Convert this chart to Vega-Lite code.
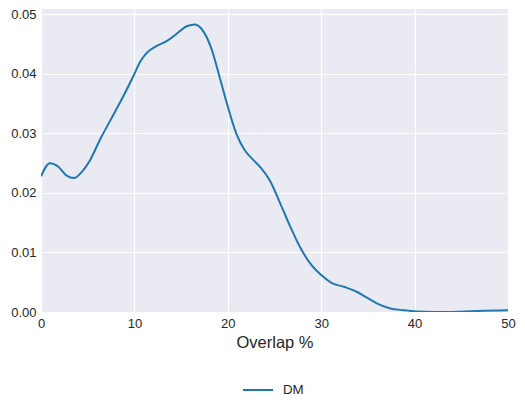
{
  "$schema": "https://vega.github.io/schema/vega-lite/v6.json",
  "width": 467,
  "height": 303,
  "autosize": {"type": "none"},
  "padding": {"left": 41, "top": 9, "right": 17, "bottom": 101},
  "background": "white",
  "config": {
    "view": {"fill": "#EAEAF2", "stroke": null},
    "font": "Liberation Sans",
    "axis": {
      "domain": false,
      "ticks": false,
      "gridColor": "white",
      "gridWidth": 1.2,
      "labelFont": "Liberation Sans",
      "labelFontSize": 13,
      "labelColor": "#262626",
      "titleFont": "Liberation Sans",
      "titleFontSize": 16.5,
      "titleFontWeight": "normal",
      "titleColor": "#262626"
    }
  },
  "data": {
    "values": [
      {"x": 0.0, "y": 0.0228, "s": "DM"},
      {"x": 0.96, "y": 0.0250, "s": "DM"},
      {"x": 1.86, "y": 0.0244, "s": "DM"},
      {"x": 2.75, "y": 0.0229, "s": "DM"},
      {"x": 3.53, "y": 0.0225, "s": "DM"},
      {"x": 4.35, "y": 0.0235, "s": "DM"},
      {"x": 5.25, "y": 0.0255, "s": "DM"},
      {"x": 6.3, "y": 0.0289, "s": "DM"},
      {"x": 7.74, "y": 0.0331, "s": "DM"},
      {"x": 8.8, "y": 0.0362, "s": "DM"},
      {"x": 9.88, "y": 0.0396, "s": "DM"},
      {"x": 10.6, "y": 0.0420, "s": "DM"},
      {"x": 11.3, "y": 0.0435, "s": "DM"},
      {"x": 12.4, "y": 0.0447, "s": "DM"},
      {"x": 13.45, "y": 0.0455, "s": "DM"},
      {"x": 14.5, "y": 0.0467, "s": "DM"},
      {"x": 15.6, "y": 0.0480, "s": "DM"},
      {"x": 16.5, "y": 0.0483, "s": "DM"},
      {"x": 17.4, "y": 0.0471, "s": "DM"},
      {"x": 18.3, "y": 0.0440, "s": "DM"},
      {"x": 19.2, "y": 0.0390, "s": "DM"},
      {"x": 20.0, "y": 0.0345, "s": "DM"},
      {"x": 20.9, "y": 0.0300, "s": "DM"},
      {"x": 21.8, "y": 0.0272, "s": "DM"},
      {"x": 22.7, "y": 0.0256, "s": "DM"},
      {"x": 23.5, "y": 0.0243, "s": "DM"},
      {"x": 24.5, "y": 0.0221, "s": "DM"},
      {"x": 25.6, "y": 0.0183, "s": "DM"},
      {"x": 26.7, "y": 0.0143, "s": "DM"},
      {"x": 27.7, "y": 0.0110, "s": "DM"},
      {"x": 28.8, "y": 0.0082, "s": "DM"},
      {"x": 30.0, "y": 0.0062, "s": "DM"},
      {"x": 31.1, "y": 0.0049, "s": "DM"},
      {"x": 32.5, "y": 0.0042, "s": "DM"},
      {"x": 33.8, "y": 0.0034, "s": "DM"},
      {"x": 34.9, "y": 0.0024, "s": "DM"},
      {"x": 35.9, "y": 0.0015, "s": "DM"},
      {"x": 37.4, "y": 0.0006, "s": "DM"},
      {"x": 38.8, "y": 0.0003, "s": "DM"},
      {"x": 40.2, "y": 0.0001, "s": "DM"},
      {"x": 43.8, "y": 0.0000, "s": "DM"},
      {"x": 47.4, "y": 0.0002, "s": "DM"},
      {"x": 50.0, "y": 0.0003, "s": "DM"}
    ]
  },
  "mark": {"type": "line", "strokeWidth": 2, "interpolate": "monotone", "clip": true},
  "encoding": {
    "x": {
      "field": "x", "type": "quantitative",
      "scale": {"domain": [0, 50], "nice": false, "zero": false},
      "axis": {"values": [0, 10, 20, 30, 40, 50], "title": "Overlap %", "labelPadding": 5, "titlePadding": 4, "labelFlush": false}
    },
    "y": {
      "field": "y", "type": "quantitative",
      "scale": {"domain": [0, 0.0509], "nice": false},
      "axis": {"values": [0, 0.01, 0.02, 0.03, 0.04, 0.05], "format": ".2f", "title": null, "labelPadding": 5}
    },
    "color": {
      "field": "s", "type": "nominal",
      "scale": {"range": ["#1f77b4"]},
      "legend": {
        "title": null,
        "orient": "none",
        "legendX": 201,
        "legendY": 365,
        "symbolType": "stroke",
        "symbolSize": 900,
        "symbolStrokeWidth": 2,
        "labelOffset": 9,
        "labelFontSize": 13.3,
        "labelColor": "#262626",
        "labelFont": "Liberation Sans"
      }
    }
  }
}
